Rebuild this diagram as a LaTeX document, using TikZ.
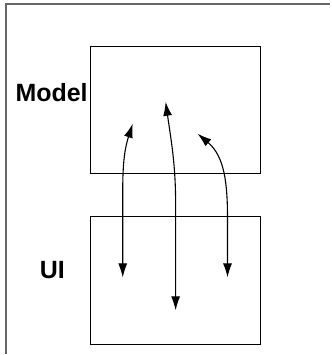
\documentclass[tikz,border=0pt]{standalone}
\usepackage{fontspec}
\setmainfont{Liberation Sans}
\usetikzlibrary{arrows.meta, positioning}

\begin{document}
\begin{tikzpicture}[
    x=1pt, y=1pt,
    layer/.style={rectangle, draw=black, line width=1.2pt, minimum width=170pt, minimum height=127pt, inner sep=0pt},
    tag/.style={font=\fontsize{25}{30}\selectfont\bfseries, inner sep=0pt},
    link/.style={line width=1.1pt, {Latex[length=14pt, width=9pt]}-{Latex[length=14pt, width=9pt]}},
]

% ---- Frame ----
\draw[gray!80!black, line width=1.5pt] (6,0) -- (6,351) -- (331,351);

% ---- Layers ----
\node[layer] (model) at (176,244.5) {};
\node[layer, minimum height=128pt] (ui) at (176,74) {};

% ---- Labels ----
\node[tag, anchor=east] (modeltag) at (88,262.5) {Model};
\node[tag] (uitag) at (52.5,84.5) {UI};

% ---- Arrow ends ----
\coordinate (ua) at (123,77);
\coordinate (ma) at (133,231);
\coordinate (ub) at (176,44);
\coordinate (mb) at (166,253);
\coordinate (uc) at (228,77);
\coordinate (mc) at (198,221);

% ---- Links ----
\draw[link] (ua) -- (123,165) to[out=90, in=-108] (ma);
\draw[link] (ub) -- (176,150) to[out=90, in=-82] (mb);
\draw[link] (uc) -- (228,135) to[out=90, in=-40] (mc);

\path[use as bounding box] (0,0) rectangle (331,355);

\end{tikzpicture}
\end{document}
